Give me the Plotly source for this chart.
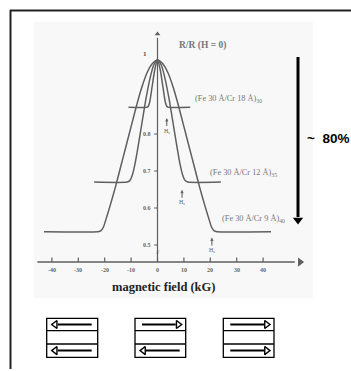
import plotly.graph_objects as go

# ---- data: R/R(H=0) versus applied field for three Fe/Cr superlattices ----
field_cr9 = [-43, -22.5, -21.5, -20.5, -19.5, -18, -16, -14, -12, -10, -8, -6, -4, -2, 0,
             2, 4, 6, 8, 10, 12, 14, 16, 18, 19.5, 20.5, 21.5, 22.5, 43]
ratio_cr9 = [0.536, 0.536, 0.538, 0.548, 0.57, 0.605, 0.655, 0.71, 0.765, 0.82, 0.875,
             0.925, 0.965, 0.99, 1.0,
             0.99, 0.965, 0.925, 0.875, 0.82, 0.765, 0.71, 0.655, 0.605, 0.57, 0.548,
             0.538, 0.536, 0.536]

field_cr12 = [-24, -11.5, -10.5, -9.5, -8.5, -7.5, -6, -4.5, -3, -1.5, 0,
              1.5, 3, 4.5, 6, 7.5, 8.5, 9.5, 10.5, 11.5, 24]
ratio_cr12 = [0.67, 0.67, 0.674, 0.69, 0.72, 0.76, 0.825, 0.89, 0.945, 0.985, 1.0,
              0.985, 0.945, 0.89, 0.825, 0.76, 0.72, 0.69, 0.674, 0.67, 0.67]

field_cr18 = [-11, -4.2, -3.6, -3, -2, -1, 0, 1, 2, 3, 3.6, 4.2, 12.4]
ratio_cr18 = [0.872, 0.872, 0.874, 0.885, 0.93, 0.975, 1.0, 0.975, 0.93, 0.885, 0.874, 0.872, 0.872]

x_ticks = [-40, -30, -20, -10, 0, 10, 20, 30, 40]
x_tick_labels = ["-40", "-30", "-20", "-10", "0", "10", "20", "30", "40"]
y_ticks = [0.5, 0.6, 0.7, 0.8]
y_tick_labels = ["0.5", "0.6", "0.7", "0.8"]

sample_labels = ["(Fe 30 Å/Cr 18 Å)<sub>30</sub>",
                 "(Fe 30 Å/Cr 12 Å)<sub>35</sub>",
                 "(Fe 30 Å/Cr 9 Å)<sub>40</sub>"]
saturation_fields = [3.5, 9.3, 20.6]

W, H = 351, 371
CURVE = "#5f5f5f"
SERIF = "Liberation Serif"

fig = go.Figure()

# curves
for xs, ys in [(field_cr9, ratio_cr9), (field_cr12, ratio_cr12), (field_cr18, ratio_cr18)]:
    fig.add_trace(go.Scatter(x=xs, y=ys, mode="lines",
                             line=dict(color=CURVE, width=1.5, shape="spline", smoothing=0.6),
                             hoverinfo="skip", showlegend=False))

# hand-drawn style axes
y_base = 0.454
fig.add_trace(go.Scatter(x=[-45.5, 52], y=[y_base, y_base], mode="lines",
                         line=dict(color=CURVE, width=1.4), hoverinfo="skip", showlegend=False))
fig.add_trace(go.Scatter(x=[0, 0], y=[y_base, 1.06], mode="lines",
                         line=dict(color=CURVE, width=1.2), hoverinfo="skip", showlegend=False))
fig.add_trace(go.Scatter(x=[54], y=[y_base], mode="markers",
                         marker=dict(symbol="triangle-right", size=8, color=CURVE),
                         hoverinfo="skip", showlegend=False))
fig.add_trace(go.Scatter(x=[0], y=[1.07], mode="markers",
                         marker=dict(symbol="triangle-up", size=5, color=CURVE),
                         hoverinfo="skip", showlegend=False))
# x tick marks
for t in x_ticks:
    fig.add_trace(go.Scatter(x=[t, t], y=[y_base, y_base + 0.012], mode="lines",
                             line=dict(color=CURVE, width=1.2), hoverinfo="skip", showlegend=False))
# y tick marks
for t in y_ticks:
    fig.add_trace(go.Scatter(x=[-1.3, 0], y=[t, t], mode="lines",
                             line=dict(color=CURVE, width=1.1), hoverinfo="skip", showlegend=False))

annotations = []
# tick labels
for t, lab in zip(x_ticks, x_tick_labels):
    annotations.append(dict(x=t, y=y_base - 0.022, text="<b>" + lab + "</b>", xref="x", yref="y",
                            showarrow=False, font=dict(family=SERIF, size=6, color="#666")))
for t, lab in zip(y_ticks, y_tick_labels):
    annotations.append(dict(x=-1.8, y=t, text="<b>" + lab + "</b>", xref="x", yref="y",
                            xanchor="right", showarrow=False,
                            font=dict(family=SERIF, size=6, color="#666")))
# axis break mark below 0.5
annotations.append(dict(x=0, y=0.481, text="//", xref="x", yref="y", showarrow=False,
                        font=dict(family=SERIF, size=6, color="#666")))

annotations += [
    dict(x=-4.8, y=1.017, text="<b>1</b>", xref="x", yref="y", showarrow=False,
         font=dict(family=SERIF, size=7, color="#555")),
    dict(x=17, y=1.038, text="<b>R/R (H = 0)</b>", xref="x", yref="y", showarrow=False,
         font=dict(family=SERIF, size=9.5, color="#777")),
    dict(x=13.5, y=0.894, text=sample_labels[0], xref="x", yref="y", showarrow=False,
         xanchor="left", font=dict(family=SERIF, size=8.3, color="#777")),
    dict(x=19, y=0.695, text=sample_labels[1], xref="x", yref="y", showarrow=False,
         xanchor="left", font=dict(family=SERIF, size=8.3, color="#777")),
    dict(x=23.7, y=0.57, text=sample_labels[2], xref="x", yref="y", showarrow=False,
         xanchor="left", font=dict(family=SERIF, size=8.3, color="#777")),
]
# saturation field markers
for hs, level in zip(saturation_fields, [0.843, 0.649, 0.52]):
    annotations.append(dict(x=hs, y=level, xref="x", yref="y", text="H<sub>s</sub>",
                            showarrow=True, ax=0, ay=13, arrowhead=2, arrowsize=0.6,
                            arrowwidth=1.1, arrowcolor="#666",
                            font=dict(family=SERIF, size=6, color="#666")))

annotations += [
    dict(x=163.5, y=287, xref="x2", yref="y2", text="<b>magnetic field (kG)</b>",
         showarrow=False, font=dict(family=SERIF, size=12.5, color="#222")),
    dict(x=305, y=138, xref="x2", yref="y2", text="<b>~&nbsp;&nbsp;80%</b>", xanchor="left",
         showarrow=False, font=dict(family="Liberation Sans", size=13.5, color="#000")),
]

# faint backdrop behind the field plot (paper-referenced so it stays under every layer)
shapes = [
    dict(type="rect", xref="paper", yref="paper", x0=34 / W, x1=313 / W,
         y0=1 - 298 / H, y1=1 - 22 / H, fillcolor="#f8f8f8", line=dict(width=0), layer="below"),
]
# frame, the 80 % drop arrow and layer-alignment boxes in page pixels
shapes += [
    dict(type="line", xref="x2", yref="y2", x0=10, x1=351, y0=10.5, y1=10.5,
         line=dict(color="#222", width=2)),
    dict(type="line", xref="x2", yref="y2", x0=10.5, x1=10.5, y0=10, y1=369,
         line=dict(color="#222", width=2)),
    dict(type="line", xref="x2", yref="y2", x0=298, x1=298, y0=57, y1=217,
         line=dict(color="#000", width=3)),
]
fig.add_trace(go.Scatter(x=[298], y=[220], xaxis="x2", yaxis="y2", mode="markers",
                         marker=dict(symbol="triangle-down", size=9, color="#000"),
                         hoverinfo="skip", showlegend=False))

boxes = [(46.7, 97.7), (135, 185.7), (223.3, 274)]
for x0, x1 in boxes:
    shapes.append(dict(type="rect", xref="x2", yref="y2", x0=x0, x1=x1, y0=318.3, y1=357.3,
                       line=dict(color="#000", width=1.3), fillcolor="rgba(0,0,0,0)"))
    for yy in (330.7, 344):
        shapes.append(dict(type="line", xref="x2", yref="y2", x0=x0, x1=x1, y0=yy, y1=yy,
                           line=dict(color="#000", width=1.3)))

# magnetisation arrows: (box, row centre, direction)
arrows = [(0, 324.5, -1), (0, 350.6, -1), (1, 324.5, 1), (1, 350.6, -1), (2, 324.5, 1), (2, 350.6, 1)]
for b, yc, d in arrows:
    x0, x1 = boxes[b]
    left, right = x0 + 7, x1 - 6
    if d > 0:
        shapes.append(dict(type="line", xref="x2", yref="y2", x0=left, x1=right - 4, y0=yc, y1=yc,
                           line=dict(color="#000", width=2)))
        fig.add_trace(go.Scatter(x=[right - 1.5], y=[yc], xaxis="x2", yaxis="y2", mode="markers",
                                 marker=dict(symbol="triangle-right-open", size=7,
                                             color="#000", line=dict(width=1.4)),
                                 hoverinfo="skip", showlegend=False))
    else:
        shapes.append(dict(type="line", xref="x2", yref="y2", x0=left + 4, x1=right, y0=yc, y1=yc,
                           line=dict(color="#000", width=2)))
        fig.add_trace(go.Scatter(x=[left + 1.5], y=[yc], xaxis="x2", yaxis="y2", mode="markers",
                                 marker=dict(symbol="triangle-left-open", size=7,
                                             color="#000", line=dict(width=1.4)),
                                 hoverinfo="skip", showlegend=False))

# data axes placed so that 0 kG sits at x=157.5 px and R/R=0.5 at y=245 px
px_per_kg, x_zero = 2.64, 157.5
x_range = [-50, 60]
x_dom = [(x_zero + px_per_kg * x_range[0]) / W, (x_zero + px_per_kg * x_range[1]) / W]
px_per_unit, y_half = 370, 245
y_range = [0.4, 1.15]
y_dom = [(H - (y_half - px_per_unit * (y_range[0] - 0.5))) / H,
         (H - (y_half - px_per_unit * (y_range[1] - 0.5))) / H]

hidden = dict(visible=False, showgrid=False, zeroline=False, fixedrange=True)
fig.update_layout(
    width=W, height=H, margin=dict(l=0, r=0, t=0, b=0),
    paper_bgcolor="#ffffff", plot_bgcolor="rgba(0,0,0,0)",
    xaxis=dict(range=x_range, domain=x_dom, **hidden),
    yaxis=dict(range=y_range, domain=y_dom, **hidden),
    xaxis2=dict(range=[0, W], domain=[0, 1], anchor="y2", **hidden),
    yaxis2=dict(range=[H, 0], domain=[0, 1], anchor="x2", **hidden),
    shapes=shapes, annotations=annotations, showlegend=False,
)

fig.write_html("out.html")
